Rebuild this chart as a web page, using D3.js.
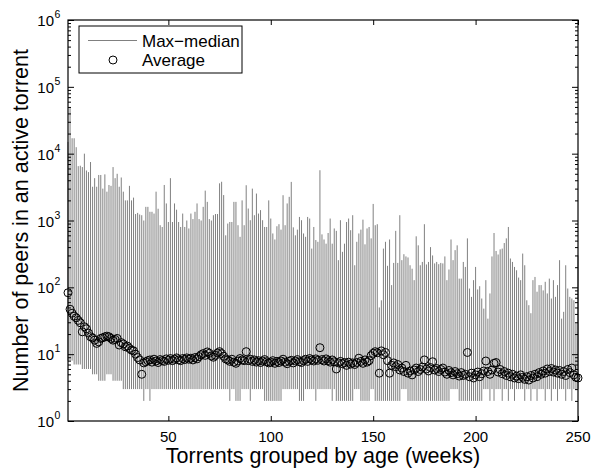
<!DOCTYPE html>
<html><head><meta charset="utf-8">
<script src="https://cdn.jsdelivr.net/npm/d3@7"></script>
<style>
body{margin:0;background:#fff}
text{font-family:"Liberation Sans",Arial,Helvetica,sans-serif;fill:#000}
</style>
</head><body>
<svg id="chart" width="593" height="468"></svg>
<script>
// ---- data ----
const weeks = d3.range(1, 251);
const maxPeers = [
 15000,48000,17000,17000,12500,6500,6600,6300,10000,5600,
 5300,7500,3200,4300,3200,4800,4800,3000,4900,2700,
 3400,3300,6300,4300,5000,3200,4400,2700,2000,2000,
 3300,2000,2200,1250,1300,1230,1200,1000,1600,1600,
 1350,1350,1270,2700,1500,850,800,3400,1800,950,
 4300,950,1800,1450,950,800,1270,800,1000,760,
 1270,1050,1350,1800,1050,1000,1600,2800,1900,1050,
 1000,1200,1250,1250,3600,3800,2400,600,900,950,
 950,1900,1900,850,570,2000,850,3370,1510,1010,
 3000,1200,2530,1270,1430,1010,800,800,2000,1070,
 640,520,820,880,730,2390,850,1800,2260,3780,
 790,600,730,1130,1010,640,570,1130,1070,380,
 800,510,480,5650,620,520,450,650,1070,450,
 760,700,255,1010,340,450,950,1070,716,1200,
 214,480,640,730,1030,440,760,800,540,1770,
 850,880,50,64,380,480,210,520,108,232,
 700,232,1200,255,313,290,280,214,190,128,
 580,425,214,240,880,220,240,400,300,228,
 240,222,232,228,290,128,185,520,255,360,
 425,135,135,240,202,540,96,72,128,202,
 93,104,68,48,128,34,81,290,650,350,
 310,370,380,460,540,800,270,240,202,180,
 140,128,320,214,64,54,41,128,143,86,
 108,108,90,121,81,135,68,128,72,108,
 255,34,43,214,96,72,68,64,29,300
];
const medianPeers = [
 8,8,8,7,7,7,7,6,6,6,
 6,6,5,5,5,4,4,4,4,5,
 5,5,4,4,4,4,4,3,3,3,
 3,3,3,3,3,3,3,2,3,3,
 2,3,3,3,3,3,3,3,3,3,
 3,3,3,3,3,3,3,3,3,3,
 3,3,3,3,3,3,3,3,3,3,
 3,3,3,3,3,3,3,3,3,2,
 3,3,2,2,2,3,3,3,3,2,
 3,3,3,3,3,3,2,2,2,2,
 2,2,2,2,2,3,3,3,3,3,
 3,3,3,2,2,2,3,3,3,3,
 3,2,3,3,3,3,3,3,3,2,
 3,2,2,2,2,2,2,2,2,2,
 3,3,3,2,2,2,2,2,3,3,
 2,2,2,2,2,2,2,2,2,2,
 2,2,2,3,3,3,2,2,2,2,
 2,2,2,2,2,2,2,2,2,2,
 2,2,2,2,2,2,2,3,3,3,
 3,2,2,2,2,2,2,2,2,2,
 2,2,2,3,3,3,2,3,2,3,
 3,3,2,3,3,2,3,3,2,3,
 3,3,3,2,3,3,2,3,3,2,
 3,3,3,2,3,3,2,3,3,2,
 3,3,3,2,3,3,2,3,3,3
];
const avgPeers = [
 83,47,41,37,35,32,29.5,21.6,25.7,24,
 20.7,18.2,17.5,16.2,14.5,15.3,17.2,17.6,18.2,18.6,
 18.2,17.2,16.2,16.6,17.2,13.7,14.9,14.2,12.9,13.2,
 12.2,11.5,11.2,10,8.9,8.2,5.0,7.4,7.7,8.0,
 8.2,7.6,8.4,7.9,7.5,8.3,8.0,7.8,8.5,8.1,
 8.6,8.0,8.4,8.8,8.2,8.0,8.6,8.3,8.8,8.4,
 8.7,8.2,8.9,8.5,9.2,9.8,10.2,9.6,10.8,10.3,
 9.4,9.0,9.6,10.4,10.9,10.2,9.3,8.5,8.2,7.8,
 8.4,7.6,7.3,7.9,8.6,8.2,8.0,10.9,8.0,8.4,
 7.8,8.2,7.6,8.0,7.5,7.9,8.3,7.7,7.4,7.6,
 8.0,7.3,7.8,7.5,7.9,8.4,7.6,7.2,7.8,8.1,
 7.4,7.9,8.3,7.7,7.5,8.0,8.4,7.8,8.6,8.2,
 7.9,8.5,8.1,12.5,8.3,7.9,8.5,8.0,7.6,8.2,
 7.7,6.0,7.4,7.8,7.2,7.5,6.8,7.6,7.1,7.4,
 7.0,7.5,8.7,7.8,7.3,8.2,7.6,8.0,9.5,10.3,
 10.9,10.5,5.2,11.2,9.8,10.6,8.0,5.2,6.8,7.4,
 6.5,7.0,5.8,6.2,5.5,6.8,5.2,5.6,4.9,5.8,
 6.2,5.5,5.9,6.4,8.2,6.0,5.6,6.3,7.7,5.8,
 6.1,5.5,5.9,6.2,5.4,5.0,5.7,5.3,4.9,5.5,
 5.1,4.7,5.3,4.8,5.0,10.6,4.6,5.2,4.4,4.9,
 5.4,4.6,5.1,5.6,7.9,5.5,5.0,5.8,7.3,7.5,
 5.4,5.9,5.1,5.5,4.8,5.2,4.6,5.0,4.4,4.7,
 4.3,4.9,4.5,4.2,4.6,4.1,4.8,4.4,5.0,4.6,
 5.3,5.0,5.6,5.2,6.0,5.5,6.1,5.4,5.8,5.2,
 5.7,5.0,5.5,4.8,5.9,5.3,6.2,4.9,4.5,4.4
];
const xTickValues = [50, 100, 150, 200, 250];
const yExponents = [0, 1, 2, 3, 4, 5, 6];
const legendLabels = ["Max\u2212median", "Average"];
const xTitle = "Torrents grouped by age (weeks)";
const yTitle = "Number of peers in an active torrent";

// ---- layout ----
const L = 68, R = 578, T = 20, B = 421;
const svg = d3.select("#chart");
const x = d3.scaleLinear().domain([1, 250]).range([L, R]);
const y = d3.scaleLog().domain([1, 1e6]).range([B, T]);
const lineColor = "#808080";

const rows = weeks.map((w, i) => ({w, max: maxPeers[i], med: medianPeers[i], avg: avgPeers[i]}));

// max-median lines
svg.append("g").selectAll("line").data(rows).join("line")
  .attr("x1", d => x(d.w)).attr("x2", d => x(d.w))
  .attr("y1", d => y(d.med)).attr("y2", d => y(d.max))
  .attr("stroke", lineColor).attr("stroke-width", 1);

// average circles
svg.append("g").selectAll("circle").data(rows).join("circle")
  .attr("cx", d => x(d.w)).attr("cy", d => y(d.avg)).attr("r", 4)
  .attr("fill", "none").attr("stroke", "#000").attr("stroke-width", 1);

// axes (ticks inward)
const majorY = yExponents.map(e => Math.pow(10, e));
const minorY = [];
yExponents.slice(0, -1).forEach(e => { for (let k = 2; k <= 9; k++) minorY.push(k * Math.pow(10, e)); });

function styleAxis(g) {
  g.select(".domain").remove();
  g.selectAll(".tick line").attr("stroke", "#000").attr("stroke-width", 1);
  g.selectAll(".tick text").remove();
}
svg.append("g").attr("transform", `translate(0,${B})`)
  .call(d3.axisBottom(x).tickValues(xTickValues).tickSize(-5)).call(styleAxis);
svg.append("g").attr("transform", `translate(0,${T})`)
  .call(d3.axisTop(x).tickValues(xTickValues).tickSize(-5)).call(styleAxis);
svg.append("g").attr("transform", `translate(${L},0)`)
  .call(d3.axisLeft(y).tickValues(majorY).tickSize(-6)).call(styleAxis);
svg.append("g").attr("transform", `translate(${L},0)`)
  .call(d3.axisLeft(y).tickValues(minorY).tickSize(-3)).call(styleAxis);
svg.append("g").attr("transform", `translate(${R},0)`)
  .call(d3.axisRight(y).tickValues(majorY).tickSize(-6)).call(styleAxis);
svg.append("g").attr("transform", `translate(${R},0)`)
  .call(d3.axisRight(y).tickValues(minorY).tickSize(-3)).call(styleAxis);

// box
svg.append("rect").attr("x", L).attr("y", T).attr("width", R - L).attr("height", B - T)
  .attr("fill", "none").attr("stroke", "#000").attr("stroke-width", 1.2);

// x tick labels
svg.append("g").selectAll("text").data(xTickValues).join("text")
  .attr("x", d => x(d)).attr("y", 442).attr("text-anchor", "middle")
  .style("font-size", "15px").text(d => d);

// y tick labels 10^n
const yl = svg.append("g").selectAll("g").data(yExponents).join("g");
yl.append("text").attr("x", 54).attr("y", d => y(Math.pow(10, d)) + 6)
  .attr("text-anchor", "end").style("font-size", "15px").text("10");
yl.append("text").attr("x", 54.5).attr("y", d => y(Math.pow(10, d)) - 2)
  .attr("text-anchor", "start").style("font-size", "10.5px").text(d => d);

// titles
svg.append("text").attr("x", (L + R) / 2).attr("y", 463).attr("text-anchor", "middle")
  .style("font-size", "21.5px").text(xTitle);
svg.append("text").attr("transform", `translate(27.5,${(T + B) / 2}) rotate(-90)`)
  .attr("text-anchor", "middle").style("font-size", "21.5px").text(yTitle);

// legend
const lg = svg.append("g");
lg.append("rect").attr("x", 79).attr("y", 26).attr("width", 163).attr("height", 47)
  .attr("fill", "#fff").attr("stroke", "#000").attr("stroke-width", 1);
lg.append("line").attr("x1", 88).attr("x2", 137).attr("y1", 40.5).attr("y2", 40.5)
  .attr("stroke", lineColor).attr("stroke-width", 1);
lg.append("circle").attr("cx", 113).attr("cy", 60).attr("r", 4)
  .attr("fill", "none").attr("stroke", "#000").attr("stroke-width", 1);
lg.append("text").attr("x", 142).attr("y", 46.5).style("font-size", "17px").text(legendLabels[0]);
lg.append("text").attr("x", 142).attr("y", 66).style("font-size", "17px").text(legendLabels[1]);
</script>
</body></html>
